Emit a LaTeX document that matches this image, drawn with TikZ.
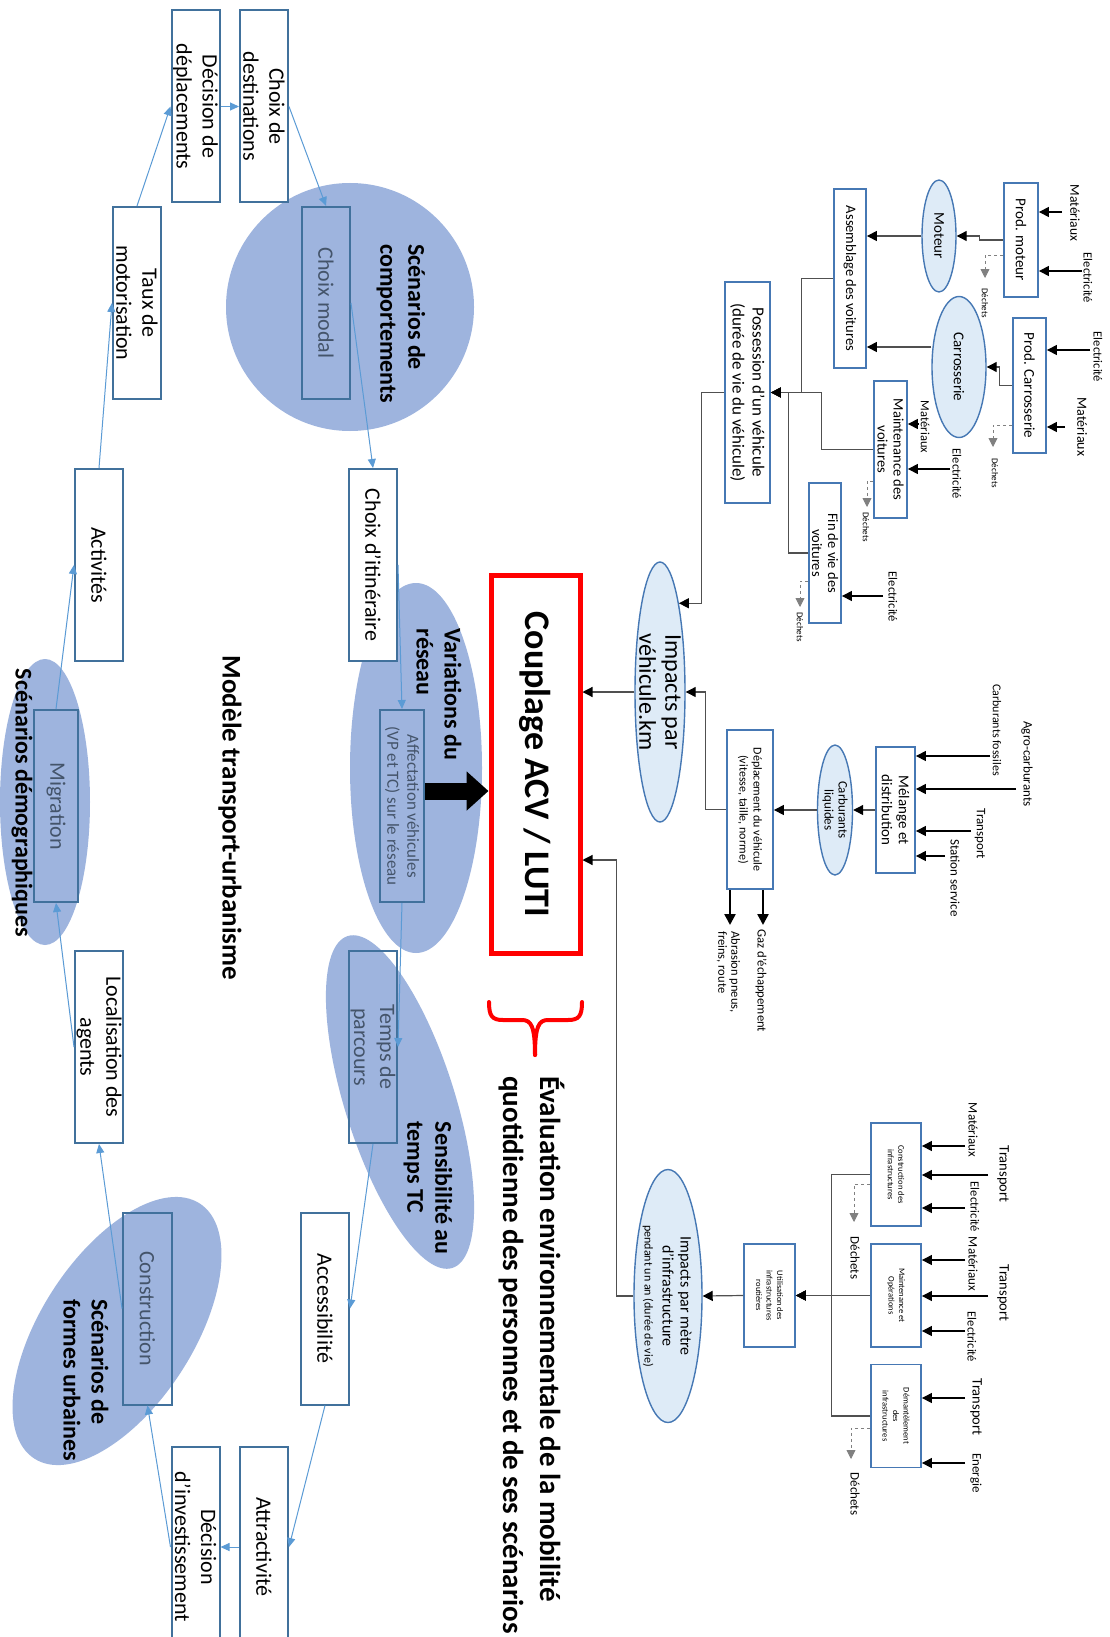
\documentclass[tikz,border=0pt]{standalone}
\usepackage{fontspec}
\setmainfont{Carlito}
\usetikzlibrary{arrows.meta,shapes.geometric,calc}
\definecolor{boxblue}{RGB}{65,113,156}
\definecolor{connblue}{RGB}{91,155,213}
\definecolor{scenfill}{RGB}{158,180,222}
\definecolor{textblue}{RGB}{68,84,106}
\definecolor{acvblue}{RGB}{70,120,180}
\definecolor{lightfill}{RGB}{222,235,247}
\definecolor{acvline}{RGB}{80,80,80}
\begin{document}
\begin{tikzpicture}[x=1pt,y=-1pt,
  rot/.style={rotate=-90},
  lbox/.style={rectangle, draw=boxblue, line width=2pt, fill=white, rotate=-90, minimum width=192pt, minimum height=48pt, inner sep=1pt, align=center, font=\fontsize{22}{26}\selectfont},
  sbox/.style={lbox, fill=none, text=textblue},
  scen/.style={fill=scenfill, draw=none, inner sep=0pt},
  bl/.style={rotate=-90, align=left, inner sep=0pt, font=\bfseries\fontsize{24}{28}\selectfont},
  conn/.style={draw=connblue, line width=1pt, -{Triangle[length=9pt,width=8pt]}},
  abox/.style={rectangle, draw=acvblue, line width=1.8pt, fill=white, rotate=-90, inner sep=1pt, align=center},
  aell/.style={ellipse, draw=acvblue, line width=1.4pt, fill=lightfill, rotate=-90, inner sep=0pt},
  aconn/.style={draw=acvline, line width=1.2pt, -{Triangle[length=10pt,width=10pt,color=black]}},
  ain/.style={draw=black, line width=1.2pt, -{Triangle[length=10pt,width=10pt]}},
  aout/.style={draw=black, line width=2.4pt, -{Triangle[length=11pt,width=11pt]}},
  awaste/.style={draw=gray, dashed, line width=0.8pt, -{Triangle[length=9pt,width=9pt]}},
  albl/.style={rotate=-90, inner sep=0pt, align=left, font=\fontsize{12.5}{14}\selectfont},
]
\useasboundingbox (0,0) rectangle (1110,1637);
\clip (0,0) rectangle (1110,1637);
\fill[white] (0,0) rectangle (1110,1637);

% ---------- scenario shapes ----------
\node[scen, circle, minimum size=248pt] (comp) at (350,307) {};
\node[scen, ellipse, minimum width=132pt, minimum height=370pt] (var) at (416,768) {};
\node[scen, ellipse, minimum width=90pt, minimum height=286pt] (dem) at (45,802) {};
\node[scen, ellipse, minimum width=348pt, minimum height=110pt, rotate=-72.5] (sens) at (400,1102) {};
\node[scen, ellipse, minimum width=304pt, minimum height=152pt, rotate=57] (fu) at (117,1331) {};

% ---------- transport-urbanisme boxes ----------
\node[lbox] (dd) at (195.5,106.5) {Décision de\\déplacements};
\node[lbox] (cd) at (264,106.5) {Choix de\\destinations};
\node[lbox] (tm) at (137,303) {Taux de\\motorisation};
\node[sbox] (cm) at (326,303) {Choix modal};
\node[lbox] (act) at (99,565) {Activités};
\node[lbox] (ci) at (373,565) {Choix d’itinéraire};
\node[sbox, minimum height=44pt] (mi) at (56,806) {Migration};
\node[sbox, minimum height=44pt, font=\fontsize{17}{20}\selectfont] (af) at (402,806) {Affectation véhicules\\(VP et TC) sur le réseau};
\node[lbox] (la) at (99,1047) {Localisation des\\agents};
\node[sbox] (tp) at (373,1047) {Temps de\\parcours};
\node[sbox, minimum height=49pt] (co) at (147.5,1308.5) {Construction};
\node[lbox] (ac) at (325,1308.5) {Accessibilité};
\node[lbox, minimum width=200pt] (di) at (195.5,1547) {Décision\\d’investissement};
\node[lbox, minimum width=200pt] (at) at (264,1547) {Attractivité};

% ---------- bold labels ----------
\node[bl] (lcomp) at (401,324) {Scénarios de\\comportements};
\node[bl] (lvar) at (439,694.5) {Variations du\\réseau};
\node[bl] (lsens) at (428,1188) {Sensibilité au\\temps TC};
\node[bl] (lfu) at (86,1380) {Scénarios de\\formes urbaines};
\node[bl] (ldem) at (22,803) {Scénarios démographiques};
\node[bl, font=\bfseries\fontsize{27}{30}\selectfont] (mt) at (230,818) {Modèle transport-urbanisme};

% ---------- blue connectors ----------
\draw[conn] (tm.west) -- (dd.south);
\draw[conn] (dd.north) -- (cd.south);
\draw[conn] (cd.north) -- (cm.west);
\draw[conn] (cm.north) -- (ci.west);
\draw[conn] (ci.north) -- (af.west);
\draw[conn] (af.east) -- (tp.north);
\draw[conn] (tp.east) -- (ac.north);
\draw[conn] (ac.east) -- (at.north);
\draw[conn] (at.south) -- (di.north);
\draw[conn] (di.south) -- (co.east);
\draw[conn] (co.south) -- (la.east);
\draw[conn] (la.south) -- (mi.east);
\draw[conn] (mi.west) -- (act.south);
\draw[conn] (act.west) -- (tm.south);

% ---------- coupling ----------
\node[draw=red, line width=5pt, rotate=-90, minimum width=378pt, minimum height=89pt, fill=white, inner sep=0pt, font=\bfseries\fontsize{36}{40}\selectfont] (cp) at (535.5,764.5) {Couplage ACV / LUTI};
\draw[black, line width=17pt, -{Triangle[length=22pt,width=38pt]}] ($(af.north)+(0,-15)$) -- ($(cp.south)+(0,26.5)$);
\draw[red, line width=4pt, line cap=round] (489,1002) .. controls (489,1016) and (492,1020) .. (503,1020) -- (522,1020) .. controls (531,1020) and (535,1026) .. (535,1055);
\draw[red, line width=4pt, line cap=round] (582,1002) .. controls (582,1016) and (579,1020) .. (568,1020) -- (548,1020) .. controls (539,1020) and (535,1026) .. (535,1055);
\node[bl, font=\bfseries\fontsize{29}{37}\selectfont] (ev) at (531.5,1355) {Évaluation environnementale de la mobilité\\quotidienne des personnes et de ses scénarios};

% ---------- ACV : vehicle ----------
\node[abox, minimum width=114pt, minimum height=34pt, font=\fontsize{15}{17}\selectfont] (pm) at (1021,240) {Prod. moteur};
\node[abox, minimum width=135pt, minimum height=33pt, font=\fontsize{15}{17}\selectfont] (pc) at (1029.5,385.5) {Prod. Carrosserie};
\node[aell, minimum width=112pt, minimum height=34pt, font=\fontsize{15}{17}\selectfont] (mo) at (939,236) {Moteur};
\node[aell, minimum width=141pt, minimum height=54pt, font=\fontsize{15}{17}\selectfont] (ca) at (959,367) {Carrosserie};
\node[abox, minimum width=179pt, minimum height=32pt, font=\fontsize{14.5}{16}\selectfont] (as) at (850,278.5) {Assemblage des voitures};
\node[abox, minimum width=221pt, minimum height=45pt, font=\fontsize{17}{20}\selectfont] (po) at (747.5,392.5) {Possession d’un véhicule\\(durée de vie du véhicule)};
\node[abox, minimum width=137pt, minimum height=33pt, font=\fontsize{14.5}{16}\selectfont] (ma) at (890.5,449.5) {Maintenance des\\voitures};
\node[abox, minimum width=140pt, minimum height=32pt, font=\fontsize{14.5}{16}\selectfont] (fv) at (825,553) {Fin de vie des\\voitures};
\node[aell, minimum width=260pt, minimum height=50pt] (iv) at (660,692) {};
\node[rot, align=center, inner sep=0pt, font=\fontsize{24}{26}\selectfont] (ivt) at (iv.center) {Impacts par\\véhicule.km};

\node[albl, font=\fontsize{13.5}{15}\selectfont] (l1) at (1075,213) {Matériaux};
\node[albl] (l2) at (1088,278) {Electricité};
\node[albl, font=\fontsize{9}{10}\selectfont] (l3) at (985,303) {Déchets};
\node[albl] (l4) at (1098,357) {Electricité};
\node[albl, font=\fontsize{14}{15}\selectfont] (l5) at (1082,427) {Matériaux};
\node[albl, font=\fontsize{9}{10}\selectfont] (l6) at (995,473) {Déchets};
\node[albl] (l7) at (925,427) {Matériaux};
\node[albl] (l8) at (957,474) {Electricité};
\node[albl, font=\fontsize{9}{10}\selectfont] (l9) at (866,527) {Déchets};
\node[albl] (l10) at (893,597) {Electricité};
\node[albl, font=\fontsize{9}{10}\selectfont] (l11) at (800,627) {Déchets};

\coordinate (i1) at (1062,212);
\coordinate (i2) at (1082,271);
\coordinate (i3) at (1090,350);
\coordinate (i4) at (1065,427);
\coordinate (i5) at (918,424);
\coordinate (i6) at (950,469);
\coordinate (i7) at (883,596);
\draw[ain] (i1) -- (i1 -| pm.north);
\draw[ain] (i2) -- (i2 -| pm.north);
\draw[ain] (i3) -- (i3 -| pc.north);
\draw[ain] (i4) -- (i4 -| pc.north);
\draw[ain] (i5) -- (i5 -| ma.north);
\draw[ain] (i6) -- (i6 -| ma.north);
\draw[ain] (i7) -- (i7 -| fv.north);

\coordinate (d1) at (985,278);
\coordinate (d2) at (993,447);
\coordinate (d3) at (867,507);
\coordinate (d4) at (800,607);
\draw[awaste] ($(pm.south)+(0,15)$) -| (d1);
\draw[awaste] ($(pc.south)+(0,40)$) -| (d2);
\draw[awaste] ($(ma.south)+(0,31.5)$) -| (d3);
\draw[awaste] ($(fv.south)+(0,28)$) -| (d4);

\draw[aconn] (pm.south) -- ++(-24,0) |- (mo.north);
\draw[aconn] (pc.south) -- ++(-13,0) |- (ca.north);
\draw[aconn] (mo.south) -- (mo.south -| as.north);
\path ($(ca.south)+(0,-20)$) coordinate (caout);
\draw[aconn] (caout) -- (caout -| as.north);
\draw[aconn] (as.south) -- ++(-32,0) |- (po.north);
\draw[aconn] (ma.south) -- ++(-52,0) |- (po.north);
\draw[aconn] (fv.south) -- ++(-20,0) |- (po.north);
\draw[aconn] (po.south) -- ++(-23,0) |- (iv.168);

% ---------- ACV : fuel ----------
\node[abox, minimum width=159pt, minimum height=46pt, font=\fontsize{12}{14}\selectfont] (dv) at (750,809.5) {Déplacement du véhicule\\(vitesse, taille, norme)};
\node[aell, minimum width=130pt, minimum height=35pt] (cl) at (835,810) {};
\node[rot, align=center, inner sep=0pt, font=\fontsize{13}{14}\selectfont] (clt) at (cl.center) {Carburants\\liquides};
\node[abox, minimum width=126pt, minimum height=39pt, font=\fontsize{15}{17}\selectfont] (md) at (895.5,810) {Mélange et\\distribution};

\node[albl, font=\fontsize{12}{14}\selectfont] (l12) at (997,730) {Carburants fossiles};
\node[albl, font=\fontsize{13}{14}\selectfont] (l13) at (1027,764) {Agro-carburants};
\node[albl, font=\fontsize{13}{14}\selectfont] (l14) at (980,834) {Transport};
\node[albl, font=\fontsize{13}{14}\selectfont] (l15) at (955,878) {Station service};
\node[albl, font=\fontsize{12.7}{14}\selectfont] (l16) at (761,981) {Gaz d’échappement};
\node[albl, font=\fontsize{12.5}{13}\selectfont] (l17) at (728.5,972) {Abrasion pneus,\\freins, route};

\coordinate (i8) at (990,756);
\coordinate (i9) at (1016,789);
\coordinate (i10) at (971,831);
\coordinate (i11) at (945,856);
\draw[ain] (i8) -- (i8 -| md.north);
\draw[ain] (i9) -- (i9 -| md.north);
\draw[ain] (i10) -- (i10 -| md.north);
\draw[ain] (i11) -- (i11 -| md.north);
\draw[aconn] (md.south) -- (cl.north);
\draw[aconn] (cl.south) -- (cl.south -| dv.north);
\draw[aconn] (dv.south) -- ++(-21,0) |- (iv.north);
\path ($(dv.east)+(13,0)$) coordinate (o1s) ($(dv.east)+(-20,0)$) coordinate (o2s);
\coordinate (o1e) at (763,925);
\coordinate (o2e) at (730,925);
\draw[aout] (o1s) -- (o1e);
\draw[aout] (o2s) -- (o2e);
\draw[aconn] (iv.south) -- (iv.south -| cp.north);

% ---------- ACV : infrastructure ----------
\node[aell, minimum width=253pt, minimum height=68pt] (ii) at (668,1296) {};
\node[rot, align=center, inner sep=0pt, font=\fontsize{16}{18}\selectfont] (iit) at (667,1296) {Impacts par mètre\\d’infrastructure\\{\fontsize{12}{14}\selectfont pendant un an (durée de vie)}};
\node[abox, minimum width=103pt, minimum height=51pt, font=\fontsize{8.5}{10.5}\selectfont] (ui) at (769.5,1295.5) {Utilisation des\\infrastructures\\routières};
\node[abox, minimum width=103pt, minimum height=50pt, font=\fontsize{8.5}{10.5}\selectfont] (ci2) at (896,1174.5) {Construction des\\infrastructures};
\node[abox, minimum width=103pt, minimum height=50pt, font=\fontsize{8.5}{10.5}\selectfont] (mi2) at (896,1295.5) {Maintenance et\\Opérations};
\node[abox, minimum width=103pt, minimum height=50pt, font=\fontsize{8.5}{10.5}\selectfont] (de) at (896,1416) {Démantèlement\\des\\infrastructures};

\node[albl, font=\fontsize{13}{14}\selectfont] (l18) at (973,1130) {Matériaux};
\node[albl, font=\fontsize{14.5}{16}\selectfont] (l19) at (1003,1174) {Transport};
\node[albl] (l20) at (975,1207) {Electricité};
\node[albl, font=\fontsize{13}{14}\selectfont] (l21) at (855,1258) {Déchets};
\node[albl, font=\fontsize{13}{14}\selectfont] (l22) at (973,1264) {Matériaux};
\node[albl, font=\fontsize{14.5}{16}\selectfont] (l23) at (1003,1293) {Transport};
\node[albl] (l24) at (972,1337) {Electricité};
\node[albl, font=\fontsize{14.5}{16}\selectfont] (l25) at (976,1407) {Transport};
\node[albl, font=\fontsize{13}{14}\selectfont] (l26) at (976,1473) {Energie};
\node[albl, font=\fontsize{13}{14}\selectfont] (l27) at (855,1494) {Déchets};

\coordinate (i12) at (965,1146);
\coordinate (i13) at (988,1175);
\coordinate (i14) at (965,1208);
\coordinate (i15) at (965,1260);
\coordinate (i16) at (988,1296);
\coordinate (i17) at (965,1331);
\coordinate (i18) at (965,1398);
\coordinate (i19) at (965,1463);
\draw[ain] (i12) -- (i12 -| ci2.north);
\draw[ain] (i13) -- (i13 -| ci2.north);
\draw[ain] (i14) -- (i14 -| ci2.north);
\draw[ain] (i15) -- (i15 -| mi2.north);
\draw[ain] (i16) -- (i16 -| mi2.north);
\draw[ain] (i17) -- (i17 -| mi2.north);
\draw[ain] (i18) -- (i18 -| de.north);
\draw[ain] (i19) -- (i19 -| de.north);

\coordinate (d5) at (854,1222);
\coordinate (d6) at (851,1459);
\draw[awaste] ($(ci2.south)+(0,9.5)$) -| (d5);
\draw[awaste] ($(de.south)+(0,12)$) -| (d6);

\draw[aconn] (ci2.south) -- ++(-39,0) |- (ui.north);
\draw[aconn] (mi2.south) -- (ui.north);
\draw[aconn] (de.south) -- ++(-39,0) |- (ui.north);
\draw[aconn] (ui.south) -- (ii.north);
\draw[aconn] (ii.south) -- ++(-17,0) |- ($(cp.north)+(0,95.5)$);
\end{tikzpicture}
\end{document}
